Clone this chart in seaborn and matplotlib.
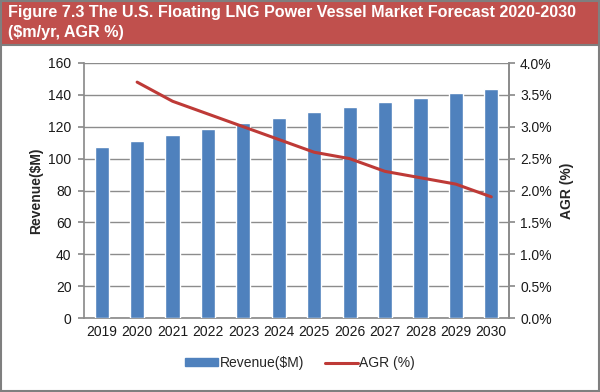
import numpy as np
import pandas as pd
import matplotlib
matplotlib.use("Agg")
import matplotlib.pyplot as plt
from matplotlib.patches import Rectangle
from matplotlib.lines import Line2D
import seaborn as sns

# data
years = [str(y) for y in range(2019, 2031)]
revenue = [107.5, 111.3, 115.0, 118.7, 122.5, 125.8, 129.0, 132.3, 135.4, 138.3, 141.3, 143.8]
agr_years = years[1:]
agr = [3.7, 3.4, 3.2, 3.0, 2.8, 2.6, 2.5, 2.3, 2.2, 2.1, 1.9]

sns.set_theme(style="white")
plt.rcParams["font.family"] = ["Liberation Sans", "DejaVu Sans"]

bar_color = "#4f81bd"
line_color = "#be3a37"
grid_color = "#8c8c8c"

fig = plt.figure(figsize=(6, 3.92), dpi=100)
ax = fig.add_axes([84 / 600, 1 - 318 / 392, 425 / 600, 255 / 392])

df = pd.DataFrame({"Year": years, "Revenue": revenue})
sns.barplot(data=df, x="Year", y="Revenue", color=bar_color, width=0.4,
            saturation=1, ax=ax, zorder=3)
ax.set_ylim(0, 160)
ax.set_yticks(range(0, 161, 20))
ax.set_xlim(-0.5, len(years) - 0.5)
ax.yaxis.grid(True, color=grid_color, linewidth=1)
ax.set_axisbelow(True)
ax.set_xlabel("")
ax.set_ylabel("Revenue($M)", fontsize=10, fontweight="bold")
ax.tick_params(axis="both", labelsize=10, length=0, pad=5)

# x tick marks between categories
ax.set_xticks(np.arange(-0.5, len(years)), minor=True)
ax.tick_params(axis="x", which="minor", length=4, color=grid_color, direction="out")
ax.spines["top"].set_visible(False)
for s in ["left", "bottom", "right"]:
    ax.spines[s].set_color(grid_color)
ax.tick_params(axis="y", which="major", length=4, color=grid_color, direction="out")
ax.yaxis.set_tick_params(which="major", left=True)

ax2 = ax.twinx()
agr_x = [years.index(y) for y in agr_years]
sns.lineplot(x=agr_x, y=agr, color=line_color, linewidth=2.2, ax=ax2)
ax2.set_ylim(0, 4)
ax2.set_yticks(np.arange(0, 4.01, 0.5))
ax2.set_yticklabels([f"{v:.1f}%" for v in np.arange(0, 4.01, 0.5)])
ax2.set_ylabel("AGR (%)", fontsize=10, fontweight="bold", labelpad=6)
ax2.tick_params(axis="y", labelsize=10, length=4, color=grid_color, direction="out", pad=4)
for s in ["top", "left", "bottom"]:
    ax2.spines[s].set_visible(False)
ax2.spines["right"].set_color(grid_color)
ax2.set_xlim(-0.5, len(years) - 0.5)

for lab in ax.get_xticklabels() + ax.get_yticklabels() + ax2.get_yticklabels():
    lab.set_color("#1a1a1a")

# legend
handles = [Rectangle((0, 0), 1, 1, color=bar_color),
           Line2D([0], [0], color=line_color, linewidth=2.2)]
fig.legend(handles, ["Revenue($M)", "AGR (%)"], loc="center",
           bbox_to_anchor=(300 / 600, 1 - 363 / 392), ncol=2, frameon=False,
           fontsize=10, handlelength=2.4, handleheight=0.5, columnspacing=1.5,
           handletextpad=0.1)

# title band
fig.patches.append(Rectangle((0, 1 - 45 / 392), 1, 45 / 392, transform=fig.transFigure,
                             facecolor="#c0504d", edgecolor="#7f7f7f", linewidth=1.5,
                             zorder=0))
fig.text(8 / 600, 1 - 13 / 392, "Figure 7.3 The U.S. Floating LNG Power Vessel Market Forecast 2020-2030",
         color="white", fontsize=11.6, fontweight="bold", va="center", ha="left")
fig.text(8 / 600, 1 - 33 / 392, "($m/yr, AGR %)",
         color="white", fontsize=11.6, fontweight="bold", va="center", ha="left")

# outer border
fig.patches.append(Rectangle((0.001, 0.002), 0.997, 0.996, transform=fig.transFigure,
                             facecolor="none", edgecolor="#7f7f7f", linewidth=1.5))

fig.savefig("out.png", dpi=100)
